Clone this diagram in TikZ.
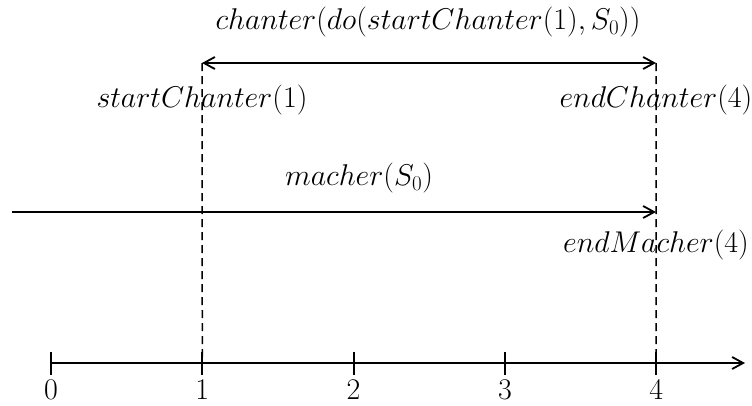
\RequirePackage{fix-cm}
\documentclass[tikz,border=0pt]{standalone}
\usepackage{fontspec}
\setmainfont{Liberation Serif}
\usetikzlibrary{arrows.meta}

\begin{document}
\begin{tikzpicture}[x=1pt,y=-1pt,font=\fontsize{30}{36}\selectfont,line width=1.8pt,
  >={Straight Barb[length=11pt,width=12pt]},
  timeline/.style={line width=1.5pt,dash pattern=on 8pt off 5pt}]
\useasboundingbox (0,0) rectangle (752,405);
% time axis with ticks
\coordinate (axisstart) at (50,363);
\coordinate (axisend) at (745,363);
\draw[->] (axisstart) -- (axisend);
\foreach \i in {0,...,4} {
  \coordinate (t\i) at (51+151.3*\i,363);
  \draw (51+151.3*\i,352) -- (51+151.3*\i,375);
  \node (n\i) at (51+151.3*\i,390) {$\i$};}
% chanter interval
\coordinate (s1) at (202,63);
\coordinate (s4) at (656,63);
\draw[timeline] (s1) -- (t1);
\draw[timeline] (s4) -- (t4);
\draw[<->] (s1) -- (s4);
\node (chanter) at (428,22) {$chanter(do(startChanter(1),S_0))$};
\node (startlab) at (202,100) {$startChanter(1)$};
\node (endlab) at (656,100) {$endChanter(4)$};
% macher interval
\coordinate (m0) at (12,212);
\coordinate (m4) at (656,212);
\draw[->] (m0) -- (m4);
\node (macher) at (359,178) {$macher(S_0)$};
\node (endmacher) at (656,245) {$endMacher(4)$};
\end{tikzpicture}
\end{document}
